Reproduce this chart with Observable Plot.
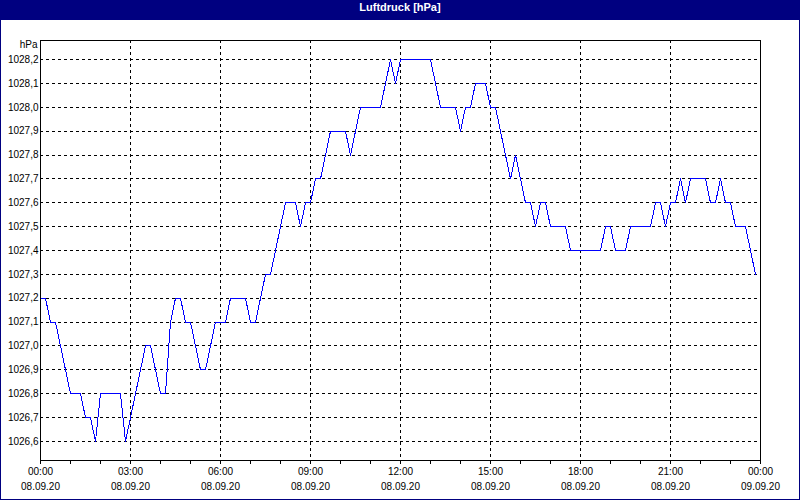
<!DOCTYPE html>
<html>
<head>
<meta charset="utf-8">
<script src="https://cdn.jsdelivr.net/npm/d3@7"></script>
<script src="https://cdn.jsdelivr.net/npm/@observablehq/plot@0.6"></script>
<style>
  html, body { margin: 0; padding: 0; background: #ffffff; }
  #chart { width: 800px; height: 500px; box-sizing: border-box; border: 1px solid #000080; background: #ffffff; overflow: hidden; }
  #title { height: 19px; line-height: 17px; background: #000080; color: #ffffff; font: bold 11px "Liberation Sans", Arial, sans-serif; text-align: center; }
  #plot svg { display: block; }
</style>
</head>
<body>
<div id="chart">
  <div id="title">Luftdruck [hPa]</div>
  <div id="plot"></div>
</div>
<script>
// Air pressure readings, every 10 minutes from 08.09.20 00:00 (hPa)
const pressure = [
  1027.2, 1027.2, 1027.1, 1027.1, 1027.0, 1026.9, 1026.8, 1026.8, 1026.8, 1026.7, 1026.7, 1026.6,
  1026.8, 1026.8, 1026.8, 1026.8, 1026.8, 1026.6, 1026.7, 1026.8, 1026.9, 1027.0, 1027.0, 1026.9,
  1026.8, 1026.8, 1027.1, 1027.2, 1027.2, 1027.1, 1027.1, 1027.0, 1026.9, 1026.9, 1027.0, 1027.1,
  1027.1, 1027.1, 1027.2, 1027.2, 1027.2, 1027.2, 1027.1, 1027.1, 1027.2, 1027.3, 1027.3, 1027.4,
  1027.5, 1027.6, 1027.6, 1027.6, 1027.5, 1027.6, 1027.6, 1027.7, 1027.7, 1027.8, 1027.9, 1027.9,
  1027.9, 1027.9, 1027.8, 1027.9, 1028.0, 1028.0, 1028.0, 1028.0, 1028.0, 1028.1, 1028.2, 1028.1,
  1028.2, 1028.2, 1028.2, 1028.2, 1028.2, 1028.2, 1028.2, 1028.1, 1028.0, 1028.0, 1028.0, 1028.0,
  1027.9, 1028.0, 1028.0, 1028.1, 1028.1, 1028.1, 1028.0, 1028.0, 1027.9, 1027.8, 1027.7, 1027.8,
  1027.7, 1027.6, 1027.6, 1027.5, 1027.6, 1027.6, 1027.5, 1027.5, 1027.5, 1027.5, 1027.4, 1027.4,
  1027.4, 1027.4, 1027.4, 1027.4, 1027.4, 1027.5, 1027.5, 1027.4, 1027.4, 1027.4, 1027.5, 1027.5,
  1027.5, 1027.5, 1027.5, 1027.6, 1027.6, 1027.5, 1027.6, 1027.6, 1027.7, 1027.6, 1027.7, 1027.7,
  1027.7, 1027.7, 1027.6, 1027.6, 1027.7, 1027.6, 1027.6, 1027.5, 1027.5, 1027.5, 1027.4, 1027.3
];
const startTime = "2020-09-08T00:00:00Z";
const endTime = "2020-09-09T00:00:00Z";
const stepMinutes = 10;

const yTicks = [1026.6, 1026.7, 1026.8, 1026.9, 1027.0, 1027.1, 1027.2, 1027.3, 1027.4,
                1027.5, 1027.6, 1027.7, 1027.8, 1027.9, 1028.0, 1028.1, 1028.2];
const yTickLabels = ["1026,6", "1026,7", "1026,8", "1026,9", "1027,0", "1027,1", "1027,2", "1027,3", "1027,4",
                     "1027,5", "1027,6", "1027,7", "1027,8", "1027,9", "1028,0", "1028,1", "1028,2"];
const yUnit = "hPa";

const xTickHours = [0, 3, 6, 9, 12, 15, 18, 21, 24];
const xTimeLabels = ["00:00", "03:00", "06:00", "09:00", "12:00", "15:00", "18:00", "21:00", "00:00"];
const xDateLabels = ["08.09.20", "08.09.20", "08.09.20", "08.09.20", "08.09.20", "08.09.20", "08.09.20", "08.09.20", "09.09.20"];

// build tables
const t0 = new Date(startTime);
const t1 = new Date(endTime);
const data = pressure.map((v, i) => ({ time: new Date(+t0 + i * stepMinutes * 60000), value: v }));
const yAxisTable = yTicks.map((v, i) => ({ value: v, label: yTickLabels[i] }));
const xAxisTable = xTickHours.map((h, i) => ({ time: new Date(+t0 + h * 3600000), hm: xTimeLabels[i], date: xDateLabels[i] }));
const gridX = xAxisTable.slice(1, -1).map(d => d.time);
const hourTicks = d3.utcHour.range(t0, new Date(+t1 + 1));

const chart = Plot.plot({
  width: 798,
  height: 479,
  marginLeft: 39,
  marginRight: 39,
  marginTop: 20,
  marginBottom: 39,
  style: { fontFamily: "'Liberation Sans', Arial, sans-serif", fontSize: "10px", background: "#ffffff", color: "black" },
  x: { type: "utc", domain: [t0, t1], axis: null },
  y: { domain: [1026.52, 1028.28], axis: null },
  marks: [
    Plot.ruleY(yTicks, { stroke: "black", strokeDasharray: "3,3", strokeOpacity: 1, shapeRendering: "crispEdges" }),
    Plot.ruleX(gridX, { stroke: "black", strokeDasharray: "3,3", strokeOpacity: 1, shapeRendering: "crispEdges" }),
    Plot.line(data, { x: "time", y: "value", stroke: "#0000ff", strokeWidth: 1, shapeRendering: "crispEdges" }),
    Plot.frame({ stroke: "black", shapeRendering: "crispEdges" }),
    Plot.axisX({ ticks: hourTicks, tickSize: 4, tickFormat: () => "", stroke: "black", strokeOpacity: 1 }),
    Plot.text(yAxisTable, { y: "value", text: "label", frameAnchor: "left", textAnchor: "end", dx: -2, fill: "black" }),
    Plot.text([yUnit], { text: d => d, frameAnchor: "top-left", textAnchor: "end", lineAnchor: "middle", dx: -3, dy: 4, fill: "black" }),
    Plot.text(xAxisTable, { x: "time", text: "hm", frameAnchor: "bottom", dy: 14, fill: "black" }),
    Plot.text(xAxisTable, { x: "time", text: "date", frameAnchor: "bottom", dy: 29, fill: "black" })
  ]
});
document.getElementById("plot").appendChild(chart);
</script>
</body>
</html>
